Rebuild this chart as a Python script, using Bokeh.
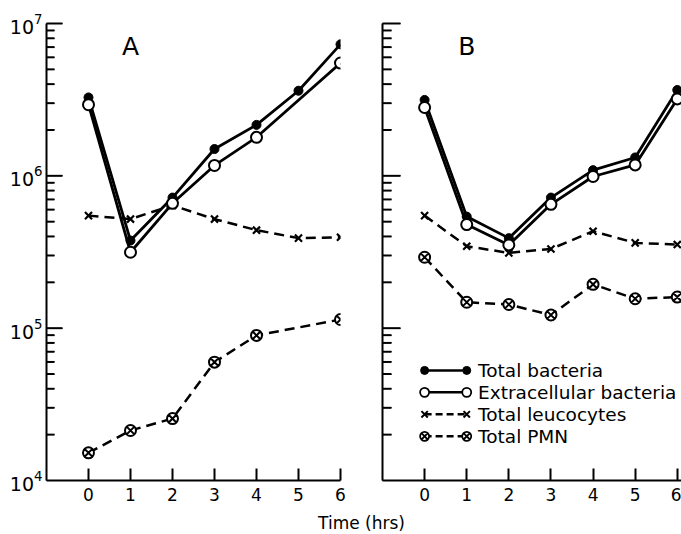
from bokeh.plotting import figure
from bokeh.layouts import column, row
from bokeh.models import FixedTicker, CustomJSTickFormatter
from bokeh.core.properties import value
from bokeh.embed import file_html
from bokeh.resources import INLINE

# Sampling times (hours); panel A has no 5 h sample for two series
hours = [0, 1, 2, 3, 4, 5, 6]
hours_a_gap = [0, 1, 2, 3, 4, 6]

# Panel A
a_total_bacteria = [3.27e6, 3.76e5, 7.2e5, 1.5e6, 2.16e6, 3.62e6, 7.3e6]
a_extracellular = [2.93e6, 3.15e5, 6.6e5, 1.17e6, 1.79e6, 5.5e6]
a_leucocytes = [5.48e5, 5.2e5, 6.4e5, 5.2e5, 4.4e5, 3.9e5, 3.95e5]
a_pmn = [1.52e4, 2.13e4, 2.55e4, 5.98e4, 8.96e4, 1.14e5]

# Panel B
b_total_bacteria = [3.15e6, 5.4e5, 3.9e5, 7.2e5, 1.09e6, 1.32e6, 3.66e6]
b_extracellular = [2.81e6, 4.79e5, 3.52e5, 6.5e5, 9.9e5, 1.18e6, 3.2e6]
b_leucocytes = [5.48e5, 3.45e5, 3.12e5, 3.31e5, 4.33e5, 3.63e5, 3.54e5]
b_pmn = [2.92e5, 1.48e5, 1.43e5, 1.22e5, 1.94e5, 1.56e5, 1.6e5]

# Axis ticks
x_ticks = [0, 1, 2, 3, 4, 5, 6]
decades = [1e4, 1e5, 1e6, 1e7]
minor_multiples = [2, 3, 4, 5, 6, 7, 8, 9]

legend_names = ["Total bacteria", "Extracellular bacteria", "Total leucocytes", "Total PMN"]

FONT = "DejaVu Sans"
INK = "black"

log_minor = [m * d for d in decades[:-1] for m in minor_multiples]


def make_panel(width, left, right, x_end, show_labels, major_len, minor_len):
    p = figure(width=width, height=510, y_axis_type="log",
               x_range=(-1, x_end), y_range=(1e4, 1e7),
               output_backend="svg", toolbar_location=None,
               min_border_left=left, min_border_right=right,
               min_border_top=23, min_border_bottom=30)
    p.outline_line_color = None
    p.grid.visible = False

    xa = p.xaxis[0]
    xa.ticker = FixedTicker(ticks=x_ticks)
    xa.axis_line_width = 2
    xa.major_tick_in = 12
    xa.major_tick_out = 0
    xa.major_tick_line_width = 2
    xa.minor_tick_line_color = None
    xa.major_label_text_font = FONT
    xa.major_label_text_font_size = "17px"
    xa.major_label_text_color = INK
    xa.major_label_standoff = 7

    ya = p.yaxis[0]
    ya.ticker = FixedTicker(ticks=decades, minor_ticks=log_minor)
    ya.axis_line_width = 2
    ya.major_tick_in = major_len
    ya.major_tick_out = 0
    ya.minor_tick_in = minor_len
    ya.minor_tick_out = 0
    ya.major_tick_line_color = INK
    ya.minor_tick_line_color = INK
    ya.major_label_text_font = FONT
    ya.major_label_text_font_size = "19px"
    ya.major_label_standoff = 4
    if show_labels:
        ya.major_label_text_color = INK
    else:
        ya.formatter = CustomJSTickFormatter(code="return '';")

    # inward decade and sub-decade marks along the left edge
    px_per_unit = (width - left - right) / (x_end + 1)
    major_y = decades[1:]
    p.segment(x0=[-1] * len(major_y), y0=major_y,
              x1=[-1 + major_len / px_per_unit] * len(major_y), y1=major_y,
              line_color=INK, line_width=2, level="overlay")
    p.segment(x0=[-1] * len(log_minor), y0=log_minor,
              x1=[-1 + minor_len / px_per_unit] * len(log_minor), y1=log_minor,
              line_color=INK, line_width=2, level="overlay")
    return p


def draw_series(p, xt, total, xe, extra, xl, leuco, xp, pmn):
    dash = "10 6"
    p.line(xl, leuco, line_color=INK, line_width=2.5, line_dash=dash)
    p.line(xp, pmn, line_color=INK, line_width=2.5, line_dash=dash)
    p.line(xt, total, line_color=INK, line_width=2.8)
    p.line(xe, extra, line_color=INK, line_width=2.8)
    p.scatter(xl, leuco, marker="x", size=10, line_color=INK, line_width=2.2)
    p.scatter(xp, pmn, marker="circle_x", size=11, line_color=INK,
              fill_color="white", line_width=2)
    p.scatter(xt, total, marker="circle", size=9, line_color=INK, fill_color=INK)
    p.scatter(xe, extra, marker="circle", size=11, line_color=INK,
              fill_color="white", line_width=2)


pa = make_panel(370, 46, 30, 6, True, 16, 8)
draw_series(pa, hours, a_total_bacteria, hours_a_gap, a_extracellular,
            hours, a_leucocytes, hours_a_gap, a_pmn)
pa.text(x=[1], y=[7.1e6], text=["A"], text_font=value(FONT), text_font_size="25px",
        text_align="center", text_baseline="middle", text_color=INK)

pb = make_panel(311, 12, 0, 6.1, False, 18, 9)
draw_series(pb, hours, b_total_bacteria, hours, b_extracellular,
            hours, b_leucocytes, hours, b_pmn)
pb.text(x=[1], y=[7.1e6], text=["B"], text_font=value(FONT), text_font_size="25px",
        text_align="center", text_baseline="middle", text_color=INK)

# Key, drawn in panel B below the PMN curve
key_y = [5.28e4, 3.79e4, 2.72e4, 1.95e4]
key_x = [0, 1]
pb.line(key_x, [key_y[0]] * 2, line_color=INK, line_width=2.5)
pb.scatter(key_x, [key_y[0]] * 2, marker="circle", size=8, line_color=INK, fill_color=INK)
pb.line(key_x, [key_y[1]] * 2, line_color=INK, line_width=2.5)
pb.scatter(key_x, [key_y[1]] * 2, marker="circle", size=9, line_color=INK,
           fill_color="white", line_width=1.8)
pb.line(key_x, [key_y[2]] * 2, line_color=INK, line_width=2.5, line_dash="7 4")
pb.scatter(key_x, [key_y[2]] * 2, marker="x", size=9, line_color=INK, line_width=2)
pb.line(key_x, [key_y[3]] * 2, line_color=INK, line_width=2.5, line_dash="7 4")
pb.scatter(key_x, [key_y[3]] * 2, marker="circle_x", size=9, line_color=INK,
           fill_color="white", line_width=1.8)
pb.text(x=[1.27] * 4, y=key_y, text=legend_names, text_font=value(FONT),
        text_font_size="18.5px", text_align="left", text_baseline="middle",
        text_color=INK)

# Shared time label under both panels
pt = figure(width=681, height=24, x_range=(0, 681), y_range=(0, 24),
            x_axis_type=None, y_axis_type=None, output_backend="svg",
            toolbar_location=None, min_border=0)
pt.outline_line_color = None
pt.grid.visible = False
pt.text(x=[361], y=[12], text=["Time (hrs)"], text_font=value(FONT),
        text_font_size="17px", text_align="center", text_baseline="middle",
        text_color=INK)

layout = column(row(pa, pb), pt)
open("out.html", "w").write(file_html(layout, INLINE))
